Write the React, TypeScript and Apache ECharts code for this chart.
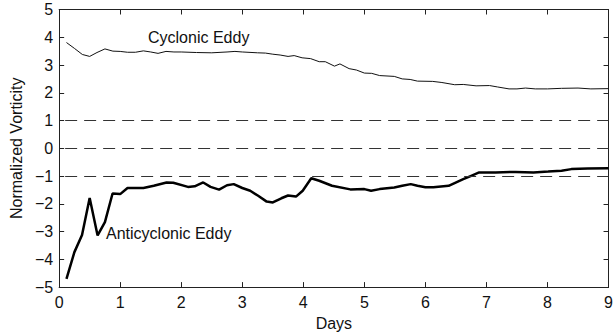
import React, { useEffect, useRef } from "react";
import * as echarts from "echarts";

const cycDays = [0.12,0.25,0.38,0.5,0.62,0.75,0.88,1.0,1.12,1.25,1.38,1.5,1.62,1.75,1.88,2.0,2.25,2.5,2.75,2.88,3.0,3.25,3.38,3.5,3.62,3.75,3.85,3.98,4.12,4.26,4.36,4.51,4.6,4.75,4.87,5.0,5.12,5.25,5.49,5.62,5.75,5.87,6.12,6.27,6.48,6.62,6.83,7.05,7.18,7.37,7.5,7.64,7.8,8.0,8.23,8.5,8.71,9.0];
const cycValues = [3.81,3.6,3.38,3.31,3.45,3.58,3.5,3.49,3.46,3.46,3.51,3.47,3.42,3.49,3.47,3.47,3.45,3.44,3.47,3.49,3.47,3.44,3.43,3.39,3.36,3.31,3.34,3.26,3.23,3.12,3.12,2.96,3.04,2.87,2.82,2.71,2.7,2.62,2.59,2.5,2.48,2.42,2.41,2.37,2.29,2.3,2.25,2.26,2.21,2.14,2.14,2.17,2.14,2.14,2.16,2.17,2.14,2.15];

const antiDays = [0.12,0.25,0.375,0.5,0.63,0.75,0.875,1.0,1.12,1.38,1.55,1.76,1.87,2.11,2.22,2.36,2.48,2.62,2.75,2.86,3.0,3.13,3.26,3.4,3.5,3.64,3.75,3.88,3.99,4.13,4.26,4.47,4.77,5.0,5.11,5.25,5.49,5.62,5.76,5.87,6.0,6.13,6.38,6.62,6.75,6.88,7.15,7.48,7.77,8.01,8.23,8.39,8.66,9.0];
const antiValues = [-4.7,-3.74,-3.12,-1.79,-3.14,-2.66,-1.63,-1.65,-1.43,-1.43,-1.35,-1.23,-1.24,-1.39,-1.37,-1.23,-1.39,-1.49,-1.33,-1.29,-1.43,-1.53,-1.71,-1.92,-1.95,-1.8,-1.7,-1.74,-1.53,-1.08,-1.17,-1.35,-1.48,-1.47,-1.53,-1.47,-1.41,-1.35,-1.29,-1.35,-1.4,-1.4,-1.35,-1.11,-0.99,-0.87,-0.87,-0.85,-0.87,-0.84,-0.81,-0.75,-0.73,-0.72];

const refLines = [1, 0, -1];
const labels = { cyclonic: "Cyclonic Eddy", anticyclonic: "Anticyclonic Eddy" };
const xName = "Days";
const yName = "Normalized Vorticity";

const FONT = "'Liberation Sans', Arial, Helvetica, sans-serif";

export default function App() {
  const ref = useRef<HTMLDivElement>(null);
  useEffect(() => {
    if (!ref.current) return;
    const chart = echarts.init(ref.current, null, { renderer: "svg" });
    const axisLine = { show: true, onZero: false, lineStyle: { color: "#222", width: 1 } };
    const tick = { show: true, inside: true, length: 5, lineStyle: { color: "#222" } };
    chart.setOption({
      animation: false,
      backgroundColor: "#fff",
      textStyle: { fontFamily: FONT },
      grid: { left: 56, right: 1.5, top: 9.5, bottom: 47, containLabel: false },
      xAxis: [
        {
          type: "value", min: 0, max: 9, interval: 1, position: "bottom",
          axisLine, axisTick: tick, splitLine: { show: false },
          axisLabel: { color: "#111", fontSize: 16, margin: 7, fontFamily: FONT },
          name: xName, nameLocation: "middle", nameGap: 27,
          nameTextStyle: { color: "#111", fontSize: 16, fontFamily: FONT },
        },
        {
          type: "value", min: 0, max: 9, interval: 1, position: "top",
          axisLine, axisTick: tick, axisLabel: { show: false }, splitLine: { show: false },
        },
      ],
      yAxis: [
        {
          type: "value", min: -5, max: 5, interval: 1, position: "left",
          axisLine, axisTick: tick, splitLine: { show: false },
          axisLabel: {
            color: "#111", fontSize: 16, margin: 6, fontFamily: FONT,
            formatter: (v: number) => (v < 0 ? "\u2212" + Math.abs(v) : String(v)),
          },
          name: yName, nameLocation: "middle", nameGap: 31,
          nameTextStyle: { color: "#111", fontSize: 16, fontFamily: FONT },
        },
        {
          type: "value", min: -5, max: 5, interval: 1, position: "right",
          axisLine, axisTick: tick, axisLabel: { show: false }, splitLine: { show: false },
        },
      ],
      series: [
        {
          type: "line", name: labels.cyclonic, showSymbol: false, symbol: "none",
          data: cycDays.map((d, i) => [d, cycValues[i]]),
          lineStyle: { color: "#111", width: 1 },
          markLine: {
            silent: true, symbol: "none", label: { show: false },
            lineStyle: { color: "#333", width: 1, type: [12, 7], dashOffset: 13 },
            data: refLines.map((y) => ({ yAxis: y })),
          },
        },
        {
          type: "line", name: labels.anticyclonic, showSymbol: false, symbol: "none",
          data: antiDays.map((d, i) => [d, antiValues[i]]),
          lineStyle: { color: "#000", width: 2.5 },
        },
      ],
      graphic: [
        {
          type: "text", left: 148, top: 29,
          style: { text: labels.cyclonic, font: `16px ${FONT}`, fill: "#111" },
        },
        {
          type: "text", left: 106, top: 225,
          style: { text: labels.anticyclonic, font: `16px ${FONT}`, fill: "#111" },
        },
      ],
    });
    return () => chart.dispose();
  }, []);
  return (
    <div
      ref={ref}
      style={{ position: "fixed", left: 0, top: 0, width: 616, height: 336, background: "#fff" }}
    />
  );
}
